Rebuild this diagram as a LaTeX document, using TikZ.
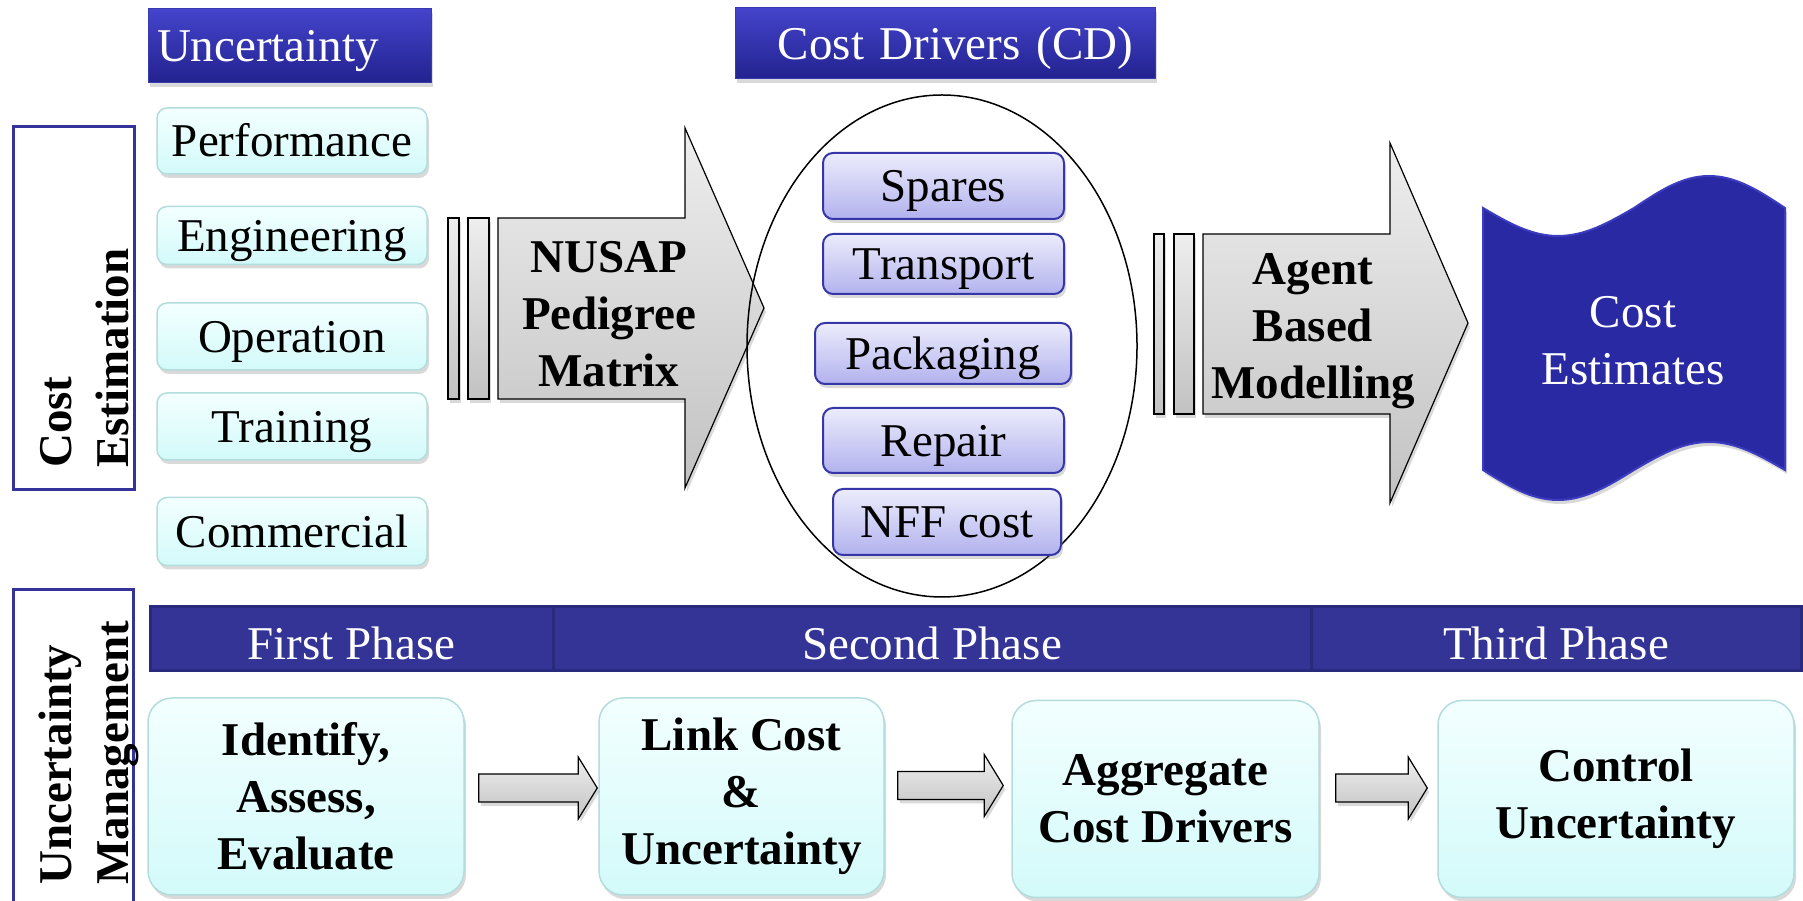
\documentclass[tikz,border=0pt]{standalone}
\usepackage{fontspec}
\setmainfont{Liberation Serif}
\usetikzlibrary{shapes.geometric,shadows,calc}

\newcommand\lblsize{\fontsize{47}{57}\selectfont}

\definecolor{hdrtop}{HTML}{4444CC}
\definecolor{hdrbot}{HTML}{22228F}
\definecolor{hdredge}{HTML}{3A3AB0}
\definecolor{frameblue}{HTML}{333399}
\definecolor{cyantop}{HTML}{F3FFFF}
\definecolor{cyanbot}{HTML}{D3FAFA}
\definecolor{cyanedge}{HTML}{B3DCDC}
\definecolor{lavtop}{HTML}{ECECFC}
\definecolor{lavbot}{HTML}{B2B2EE}
\definecolor{lavedge}{HTML}{3636A8}
\definecolor{graytop}{HTML}{EEEEEE}
\definecolor{graybot}{HTML}{C2C2C2}
\definecolor{ceblue}{HTML}{2929A4}
\definecolor{cerim}{HTML}{3C3CC0}
\definecolor{phasefill}{HTML}{343497}
\definecolor{phaseedge}{HTML}{29297E}

\begin{document}
\begin{tikzpicture}[x=1pt,y=1pt,
  base/.style={font=\lblsize, inner sep=2pt},
  oneline/.style={text height=42pt, text depth=10pt},
  softshadow/.style={drop shadow={opacity=0.3, shadow xshift=2pt, shadow yshift=-4pt}},
  hdr/.style={base, oneline, text=white, top color=hdrtop, bottom color=hdrbot, draw=hdredge, line width=1pt, softshadow},
  sideframe/.style={draw=frameblue, line width=3pt},
  sidelbl/.style={font=\lblsize\bfseries, rotate=90, anchor=base west, inner sep=0pt},
  cyanbox/.style={base, oneline, rounded corners=10, top color=cyantop, bottom color=cyanbot, draw=cyanedge, line width=1.5pt, minimum width=270, softshadow},
  lavbox/.style={base, oneline, rounded corners=10, top color=lavtop, bottom color=lavbot, draw=lavedge, line width=2pt, softshadow},
  blockarrow/.style={top color=graytop, bottom color=graybot, draw=black, line width=1.2pt, softshadow},
  arrowtext/.style={font=\lblsize\bfseries, align=center, inner sep=0pt},
  phasebar/.style={base, text height=46pt, text depth=4pt, text=white, fill=phasefill, draw=phaseedge, line width=3pt, minimum height=64},
  stepbox/.style={font=\lblsize\bfseries, align=center, inner sep=2pt, rounded corners=24, top color=cyantop, bottom color=cyanbot, draw=cyanedge, line width=1.5pt, minimum height=197, softshadow}
]
\useasboundingbox (0,0) rectangle (1803,901);
\clip (0,0) rectangle (1803,901);

% ---------- cost estimation row ----------
\node[hdr, minimum width=283, minimum height=74, text width=265, align=left] (hunc) at (289.5,855) {Uncertainty};
\node[hdr, minimum width=420, minimum height=71, text width=376, align=right] (hcd) at (945,857.5) {Cost Drivers (CD)};

\node[sideframe, minimum width=121, minimum height=363] (cef) at (73.5,592.5) {};
\node[sidelbl] (ce1) at (71,433) {Cost};
\node[sidelbl] (ce2) at (128,433) {Estimation};

\node[cyanbox, minimum height=66] (perf) at (292,760) {Performance};
\node[cyanbox, minimum height=58] (eng)  at (292,665.5) {Engineering};
\node[cyanbox, minimum height=67] (oper) at (292,564.5) {Operation};
\node[cyanbox, minimum height=67] (trai) at (292,474.5) {Training};
\node[cyanbox, minimum height=68] (comm) at (292,369.5) {Commercial};

% NUSAP block arrow
\path[blockarrow] (448,683) rectangle (459,502);
\path[blockarrow] (468,683) rectangle (489,502);
\path[blockarrow] (498,683) -- (685,683) -- (685,773) -- (764,593) -- (685,413) -- (685,502) -- (498,502) -- cycle;
\node[arrowtext] (nusap) at (609,587) {NUSAP\\Pedigree\\Matrix};

% cost drivers group
\node[draw=black, line width=1.5pt, ellipse, minimum width=390, minimum height=502, inner sep=0pt] (cdgroup) at (942,555) {};
\node[lavbox, minimum width=241, minimum height=66] (spares) at (943.5,715) {Spares};
\node[lavbox, minimum width=241, minimum height=60] (transp) at (943.5,637) {Transport};
\node[lavbox, minimum width=256, minimum height=61] (pack)   at (943,547.5) {Packaging};
\node[lavbox, minimum width=241, minimum height=65] (repair) at (943.5,460.5) {Repair};
\node[lavbox, minimum width=228, minimum height=66] (nff)    at (947,379) {NFF cost};

% agent based modelling block arrow
\path[blockarrow] (1154,667) rectangle (1164,487);
\path[blockarrow] (1174,667) rectangle (1194,487);
\path[blockarrow] (1203,667) -- (1390,667) -- (1390,758) -- (1468,578) -- (1390,398) -- (1390,487) -- (1203,487) -- cycle;
\node[arrowtext] (abm) at (1313,570) {Agent\\Based\\Modelling};

% cost estimates (punched tape)
\path[fill=ceblue, draw=cerim, line width=2pt, softshadow] (1483,693) sin (1558,665) cos (1634,693) sin (1709,725) cos (1785,693)
  -- (1785,431) sin (1709,459) cos (1634,431) sin (1558,401) cos (1483,431) -- cycle;
\node[base, text=white, align=center] (est) at (1633,560) {Cost\\Estimates};

% ---------- uncertainty management row ----------
\node[sideframe, minimum width=120, minimum height=340, anchor=north] (umf) at (73,313) {};
\node[sidelbl] (um1) at (71,16) {Uncertainty};
\node[sidelbl] (um2) at (128,16) {Management};

\node[phasebar, minimum width=403] (ph1) at (351.5,262) {First Phase};
\node[phasebar, minimum width=758] (ph2) at (932,262) {Second Phase};
\node[phasebar, minimum width=490] (ph3) at (1556,262) {Third Phase};

\node[stepbox, minimum width=316] (s1) at (306,104.5) {Identify,\\Assess,\\Evaluate};
\node[stepbox, minimum width=285] (s2) at (741.5,104.5) {Link Cost\\\&\\Uncertainty};
\node[stepbox, minimum width=307] (s3) at (1165.5,102) {Aggregate\\Cost Drivers};
\node[stepbox, minimum width=356] (s4) at (1616,102) {Control\\Uncertainty};

% block connectors between the steps
\foreach \a/\b/\gapa/\gapb/\dy in {s1/s2/14/1/8.5, s2/s3/13/8/11, s3/s4/16/10/11}{
  \path[blockarrow] let \p1=($(\a.east)+(\gapa pt,\dy pt)$), \p2=($(\b.west)+(-\gapb pt,\dy pt)$) in
    (\x1,\y1+14pt) -- (\x2-19pt,\y1+14pt) -- (\x2-19pt,\y1+31pt) -- (\x2,\y1) --
    (\x2-19pt,\y1-31pt) -- (\x2-19pt,\y1-14pt) -- (\x1,\y1-14pt) -- cycle;
}
\end{tikzpicture}
\end{document}
